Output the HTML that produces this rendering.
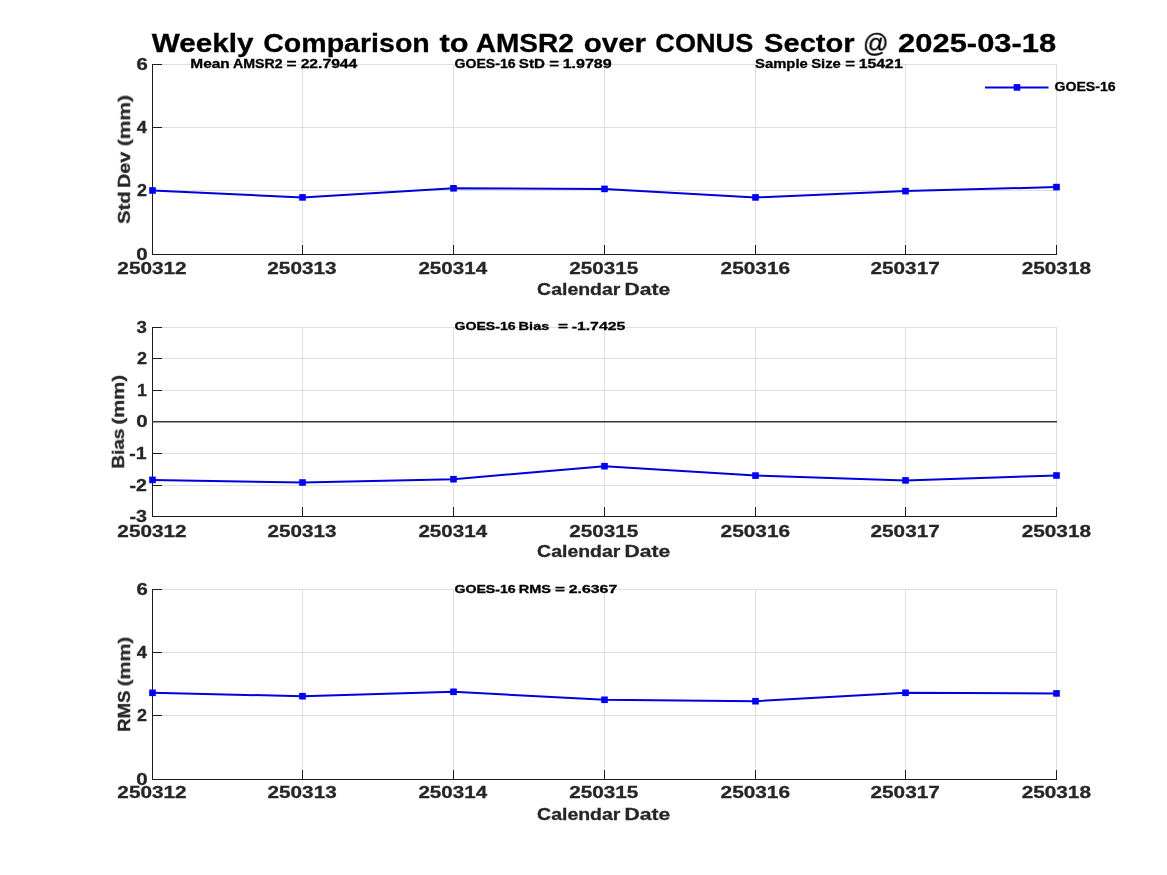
<!DOCTYPE html>
<html><head><meta charset="utf-8"><title>Weekly Comparison to AMSR2 over CONUS Sector</title>
<style>
html,body{margin:0;padding:0;background:#fff;}
body{width:1167px;height:875px;position:relative;overflow:hidden;}
.g{position:absolute;left:0;top:0;}
.t{position:absolute;left:0;top:0;font-family:"Liberation Sans",sans-serif;font-weight:bold;line-height:1;white-space:pre;transform-origin:0 0;-webkit-text-stroke:0.3px currentColor;will-change:transform;}
</style></head><body>
<svg class="g" width="1167" height="875" viewBox="0 0 1167 875">
<path d="M152.5 64V255M302.5 64V255M453.5 64V255M604.5 64V255M755.5 64V255M905.5 64V255M1056.5 64V255M152 64.5H1057M152 127.5H1057M152 190.5H1057M152 254.5H1057M152.5 327V517M302.5 327V517M453.5 327V517M604.5 327V517M755.5 327V517M905.5 327V517M1056.5 327V517M152 327.5H1057M152 358.5H1057M152 390.5H1057M152 421.5H1057M152 453.5H1057M152 485.5H1057M152 516.5H1057M152.5 589V780M302.5 589V780M453.5 589V780M604.5 589V780M755.5 589V780M905.5 589V780M1056.5 589V780M152 589.5H1057M152 652.5H1057M152 715.5H1057M152 779.5H1057" stroke="#dfdfdf" stroke-width="1" fill="none" shape-rendering="crispEdges"/>
<path d="M152.5 64V255M152 254.5H1057M152 64.5H162M152 127.5H162M152 190.5H162M152 254.5H162M152.5 255V245M302.5 255V245M453.5 255V245M604.5 255V245M755.5 255V245M905.5 255V245M1056.5 255V245M152.5 327V517M152 516.5H1057M152 327.5H162M152 358.5H162M152 390.5H162M152 421.5H162M152 453.5H162M152 485.5H162M152 516.5H162M152.5 517V507M302.5 517V507M453.5 517V507M604.5 517V507M755.5 517V507M905.5 517V507M1056.5 517V507M152.5 589V780M152 779.5H1057M152 589.5H162M152 652.5H162M152 715.5H162M152 779.5H162M152.5 780V770M302.5 780V770M453.5 780V770M604.5 780V770M755.5 780V770M905.5 780V770M1056.5 780V770" stroke="#1c1c1c" stroke-width="1" fill="none" shape-rendering="crispEdges"/>
<path d="M152 421.75H1057" stroke="#383838" stroke-width="1.6" fill="none"/>
<polyline points="152.5,190.5 302.5,197.4 453.5,188.3 604.5,188.9 755.5,197.4 905.5,191.1 1056.5,187.1" fill="none" stroke="#0000dd" stroke-width="2" stroke-linejoin="round"/><rect x="149.20" y="187.20" width="6.6" height="6.6" fill="#0000ff"/><rect x="299.20" y="194.10" width="6.6" height="6.6" fill="#0000ff"/><rect x="450.20" y="185.00" width="6.6" height="6.6" fill="#0000ff"/><rect x="601.20" y="185.60" width="6.6" height="6.6" fill="#0000ff"/><rect x="752.20" y="194.10" width="6.6" height="6.6" fill="#0000ff"/><rect x="902.20" y="187.80" width="6.6" height="6.6" fill="#0000ff"/><rect x="1053.20" y="183.80" width="6.6" height="6.6" fill="#0000ff"/><polyline points="152.5,479.9 302.5,482.5 453.5,479.2 604.5,466.2 755.5,475.6 905.5,480.4 1056.5,475.5" fill="none" stroke="#0000dd" stroke-width="2" stroke-linejoin="round"/><rect x="149.20" y="476.60" width="6.6" height="6.6" fill="#0000ff"/><rect x="299.20" y="479.20" width="6.6" height="6.6" fill="#0000ff"/><rect x="450.20" y="475.90" width="6.6" height="6.6" fill="#0000ff"/><rect x="601.20" y="462.90" width="6.6" height="6.6" fill="#0000ff"/><rect x="752.20" y="472.30" width="6.6" height="6.6" fill="#0000ff"/><rect x="902.20" y="477.10" width="6.6" height="6.6" fill="#0000ff"/><rect x="1053.20" y="472.20" width="6.6" height="6.6" fill="#0000ff"/><polyline points="152.5,692.8 302.5,696.2 453.5,691.8 604.5,699.8 755.5,701.2 905.5,692.8 1056.5,693.4" fill="none" stroke="#0000dd" stroke-width="2" stroke-linejoin="round"/><rect x="149.20" y="689.50" width="6.6" height="6.6" fill="#0000ff"/><rect x="299.20" y="692.90" width="6.6" height="6.6" fill="#0000ff"/><rect x="450.20" y="688.50" width="6.6" height="6.6" fill="#0000ff"/><rect x="601.20" y="696.50" width="6.6" height="6.6" fill="#0000ff"/><rect x="752.20" y="697.90" width="6.6" height="6.6" fill="#0000ff"/><rect x="902.20" y="689.50" width="6.6" height="6.6" fill="#0000ff"/><rect x="1053.20" y="690.10" width="6.6" height="6.6" fill="#0000ff"/>
<path d="M985 87.4H1048.5" stroke="#0000dd" stroke-width="2" fill="none"/><rect x="1013.7" y="84.10000000000001" width="6.6" height="6.6" fill="#0000ff"/>
</svg>
<div class="t" style="font-size:26.67px;color:#000000;transform:translate(151.83px,29.93px) scaleX(1.1138)">Weekly</div>
<div class="t" style="font-size:26.67px;color:#000000;transform:translate(263.18px,29.93px) scaleX(1.0713)">Comparison</div>
<div class="t" style="font-size:26.67px;color:#000000;transform:translate(439.45px,29.93px) scaleX(1.1562)">to</div>
<div class="t" style="font-size:26.67px;color:#000000;transform:translate(475.68px,29.93px) scaleX(1.0526)">AMSR2</div>
<div class="t" style="font-size:26.67px;color:#000000;transform:translate(583.75px,29.93px) scaleX(1.1075)">over</div>
<div class="t" style="font-size:26.67px;color:#000000;transform:translate(655.28px,29.93px) scaleX(1.0180)">CONUS</div>
<div class="t" style="font-size:26.67px;color:#000000;transform:translate(764.03px,29.93px) scaleX(1.0929)">Sector</div>
<div class="t" style="font-size:26.67px;color:#000000;transform:translate(898.08px,29.93px) scaleX(1.1596)">2025-03-18</div>
<div class="t" style="font-size:26.67px;font-weight:normal;color:#000000;transform:translate(862.85px,29.93px) scaleX(0.9488)">@</div>
<div class="t" style="font-size:13.04px;color:#000000;transform:translate(190.30px,56.91px) scaleX(1.1833)">Mean</div>
<div class="t" style="font-size:13.04px;color:#000000;transform:translate(232.90px,56.91px) scaleX(1.0883)">AMSR2</div>
<div class="t" style="font-size:13.04px;color:#000000;transform:translate(286.60px,56.91px) scaleX(1.3182)">=</div>
<div class="t" style="font-size:13.04px;color:#000000;transform:translate(300.63px,56.91px) scaleX(1.2030)">22.7944</div>
<div class="t" style="font-size:13.04px;color:#000000;transform:translate(454.50px,56.91px) scaleX(1.0809)">GOES-16</div>
<div class="t" style="font-size:13.04px;color:#000000;transform:translate(518.80px,56.91px) scaleX(1.1611)">StD</div>
<div class="t" style="font-size:13.04px;color:#000000;transform:translate(549.19px,56.91px) scaleX(1.2746)">=</div>
<div class="t" style="font-size:13.04px;color:#000000;transform:translate(562.64px,56.91px) scaleX(1.2315)">1.9789</div>
<div class="t" style="font-size:13.04px;color:#000000;transform:translate(755.08px,56.91px) scaleX(1.1360)">Sample</div>
<div class="t" style="font-size:13.04px;color:#000000;transform:translate(811.20px,56.91px) scaleX(1.1357)">Size</div>
<div class="t" style="font-size:13.04px;color:#000000;transform:translate(845.14px,56.91px) scaleX(1.2760)">=</div>
<div class="t" style="font-size:13.04px;color:#000000;transform:translate(858.64px,56.91px) scaleX(1.2181)">15421</div>
<div class="t" style="font-size:13.04px;color:#000000;transform:translate(1054.44px,79.91px) scaleX(1.0845)">GOES-16</div>
<div class="t" style="font-size:11.73px;color:#000000;transform:translate(454.42px,319.82px) scaleX(1.2061)">GOES-16</div>
<div class="t" style="font-size:11.73px;color:#000000;transform:translate(518.62px,319.82px) scaleX(1.2384)">Bias</div>
<div class="t" style="font-size:11.73px;color:#000000;transform:translate(557.88px,319.82px) scaleX(1.4663)">=</div>
<div class="t" style="font-size:11.73px;color:#000000;transform:translate(571.64px,319.82px) scaleX(1.3509)">-1.7425</div>
<div class="t" style="font-size:11.73px;color:#000000;transform:translate(454.42px,582.62px) scaleX(1.2060)">GOES-16</div>
<div class="t" style="font-size:11.73px;color:#000000;transform:translate(518.69px,582.62px) scaleX(1.2340)">RMS</div>
<div class="t" style="font-size:11.73px;color:#000000;transform:translate(554.90px,582.62px) scaleX(1.4595)">=</div>
<div class="t" style="font-size:11.73px;color:#000000;transform:translate(568.72px,582.62px) scaleX(1.3548)">2.6367</div>
<div class="t" style="font-size:17.39px;color:#262626;transform:translate(117.35px,259.92px) scaleX(1.1930)">250312</div>
<div class="t" style="font-size:17.39px;color:#262626;transform:translate(267.32px,259.92px) scaleX(1.1939)">250313</div>
<div class="t" style="font-size:17.39px;color:#262626;transform:translate(418.42px,259.92px) scaleX(1.1842)">250314</div>
<div class="t" style="font-size:17.39px;color:#262626;transform:translate(569.24px,259.92px) scaleX(1.1903)">250315</div>
<div class="t" style="font-size:17.39px;color:#262626;transform:translate(720.56px,259.92px) scaleX(1.1985)">250316</div>
<div class="t" style="font-size:17.39px;color:#262626;transform:translate(870.53px,259.92px) scaleX(1.1930)">250317</div>
<div class="t" style="font-size:17.39px;color:#262626;transform:translate(1021.67px,259.92px) scaleX(1.1957)">250318</div>
<div class="t" style="font-size:16.93px;color:#262626;transform:translate(136.38px,56.64px) scaleX(1.2004)">6</div>
<div class="t" style="font-size:16.93px;color:#262626;transform:translate(136.71px,119.64px) scaleX(1.0810)">4</div>
<div class="t" style="font-size:16.93px;color:#262626;transform:translate(137.07px,182.64px) scaleX(1.0631)">2</div>
<div class="t" style="font-size:16.93px;color:#262626;transform:translate(136.31px,246.64px) scaleX(1.2157)">0</div>
<div class="t" style="font-size:17.39px;color:#262626;transform:translate(537.06px,280.52px) scaleX(1.1213)">Calendar</div>
<div class="t" style="font-size:17.39px;color:#262626;transform:translate(624.56px,280.52px) scaleX(1.2151)">Date</div>
<div class="t" style="font-size:17.19px;color:#262626;transform:translate(115.90px,224.00px) rotate(-90deg) scaleX(1.1800)">Std</div>
<div class="t" style="font-size:17.19px;color:#262626;transform:translate(115.90px,187.96px) rotate(-90deg) scaleX(1.1464)">Dev</div>
<div class="t" style="font-size:17.19px;color:#262626;transform:translate(115.90px,146.24px) rotate(-90deg) scaleX(1.2187)">(mm)</div>
<div class="t" style="font-size:17.35px;color:#262626;transform:translate(117.36px,522.52px) scaleX(1.1954)">250312</div>
<div class="t" style="font-size:17.35px;color:#262626;transform:translate(267.54px,522.52px) scaleX(1.1909)">250313</div>
<div class="t" style="font-size:17.35px;color:#262626;transform:translate(418.43px,522.52px) scaleX(1.1862)">250314</div>
<div class="t" style="font-size:17.35px;color:#262626;transform:translate(569.28px,522.52px) scaleX(1.1939)">250315</div>
<div class="t" style="font-size:17.35px;color:#262626;transform:translate(720.58px,522.52px) scaleX(1.2004)">250316</div>
<div class="t" style="font-size:17.35px;color:#262626;transform:translate(870.55px,522.52px) scaleX(1.1950)">250317</div>
<div class="t" style="font-size:17.35px;color:#262626;transform:translate(1021.68px,522.52px) scaleX(1.1977)">250318</div>
<div class="t" style="font-size:16.93px;color:#262626;transform:translate(136.57px,319.64px) scaleX(1.1022)">3</div>
<div class="t" style="font-size:16.93px;color:#262626;transform:translate(137.07px,350.64px) scaleX(1.0631)">2</div>
<div class="t" style="font-size:16.93px;color:#262626;transform:translate(136.98px,382.64px) scaleX(1.0569)">1</div>
<div class="t" style="font-size:16.93px;color:#262626;transform:translate(136.31px,413.64px) scaleX(1.2157)">0</div>
<div class="t" style="font-size:16.93px;color:#262626;transform:translate(129.35px,445.64px) scaleX(1.1552)">-1</div>
<div class="t" style="font-size:16.93px;color:#262626;transform:translate(129.40px,477.64px) scaleX(1.1527)">-2</div>
<div class="t" style="font-size:16.93px;color:#262626;transform:translate(129.38px,508.64px) scaleX(1.1610)">-3</div>
<div class="t" style="font-size:17.39px;color:#262626;transform:translate(537.06px,542.72px) scaleX(1.1213)">Calendar</div>
<div class="t" style="font-size:17.39px;color:#262626;transform:translate(624.56px,542.72px) scaleX(1.2151)">Date</div>
<div class="t" style="font-size:17.39px;color:#262626;transform:translate(109.92px,468.69px) rotate(-90deg) scaleX(1.0943)">Bias</div>
<div class="t" style="font-size:17.39px;color:#262626;transform:translate(109.92px,424.72px) rotate(-90deg) scaleX(1.1746)">(mm)</div>
<div class="t" style="font-size:17.07px;color:#262626;transform:translate(117.36px,783.57px) scaleX(1.2148)">250312</div>
<div class="t" style="font-size:17.07px;color:#262626;transform:translate(267.59px,783.57px) scaleX(1.2130)">250313</div>
<div class="t" style="font-size:17.07px;color:#262626;transform:translate(418.42px,783.57px) scaleX(1.2059)">250314</div>
<div class="t" style="font-size:17.07px;color:#262626;transform:translate(569.27px,783.57px) scaleX(1.2134)">250315</div>
<div class="t" style="font-size:17.07px;color:#262626;transform:translate(720.56px,783.57px) scaleX(1.2201)">250316</div>
<div class="t" style="font-size:17.07px;color:#262626;transform:translate(870.54px,783.57px) scaleX(1.2152)">250317</div>
<div class="t" style="font-size:17.07px;color:#262626;transform:translate(1021.66px,783.57px) scaleX(1.2171)">250318</div>
<div class="t" style="font-size:16.93px;color:#262626;transform:translate(136.38px,581.64px) scaleX(1.2004)">6</div>
<div class="t" style="font-size:16.93px;color:#262626;transform:translate(136.71px,644.64px) scaleX(1.0810)">4</div>
<div class="t" style="font-size:16.93px;color:#262626;transform:translate(137.07px,707.64px) scaleX(1.0631)">2</div>
<div class="t" style="font-size:16.93px;color:#262626;transform:translate(136.31px,771.64px) scaleX(1.2157)">0</div>
<div class="t" style="font-size:17.39px;color:#262626;transform:translate(537.06px,805.52px) scaleX(1.1213)">Calendar</div>
<div class="t" style="font-size:17.39px;color:#262626;transform:translate(624.56px,805.52px) scaleX(1.2151)">Date</div>
<div class="t" style="font-size:17.39px;color:#262626;transform:translate(115.97px,731.90px) rotate(-90deg) scaleX(1.0720)">RMS</div>
<div class="t" style="font-size:17.39px;color:#262626;transform:translate(115.97px,686.39px) rotate(-90deg) scaleX(1.1690)">(mm)</div>
</body></html>
